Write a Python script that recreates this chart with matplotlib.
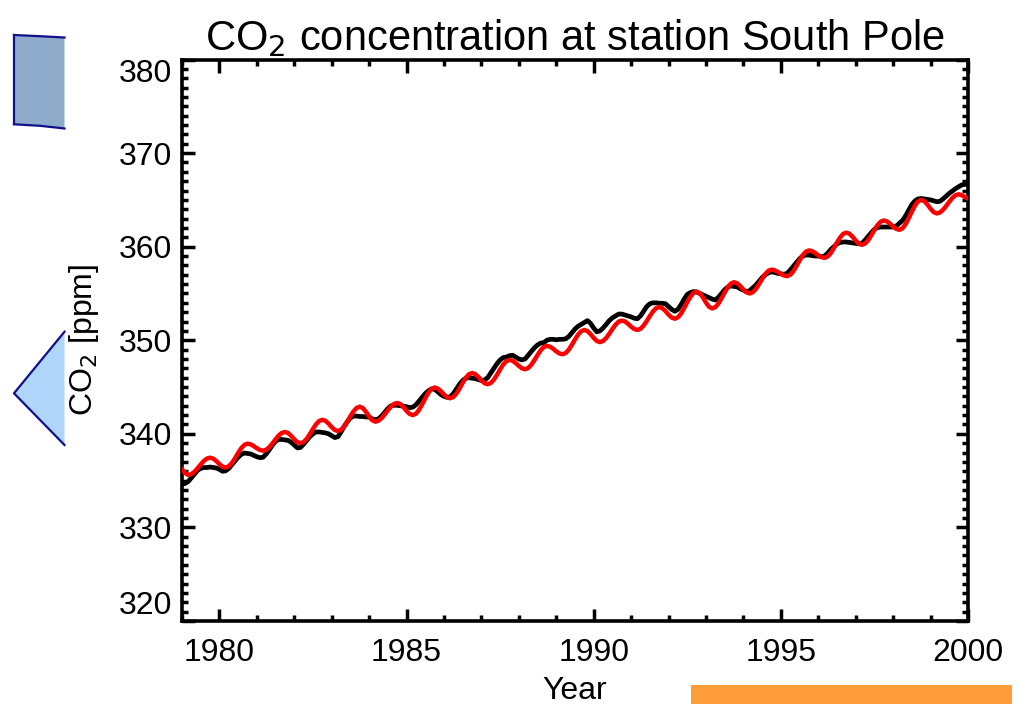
import numpy as np
import matplotlib
matplotlib.use('Agg')
import matplotlib.pyplot as plt
from matplotlib.patches import Polygon, Rectangle
from matplotlib.ticker import MultipleLocator

plt.rcParams['font.family'] = ['Liberation Sans', 'DejaVu Sans']

# Monthly values, Jan 1979 .. Jan 2000
start_year = 1979
end_year = 2000

# measured CO2 (black), one row per year
co2_obs = [
    334.6, 334.7, 334.9, 335.3, 335.7, 336.1, 336.3, 336.4, 336.4, 336.45, 336.4, 336.35,  # 1979
    336.2, 336.0, 336.05, 336.3, 336.7, 337.1, 337.5, 337.8, 337.95, 337.9, 337.85, 337.7,  # 1980
    337.55, 337.45, 337.5, 337.85, 338.3, 338.8, 339.2, 339.4, 339.4, 339.35, 339.3, 339.1,  # 1981
    338.8, 338.5, 338.55, 338.9, 339.3, 339.7, 340.0, 340.2, 340.2, 340.15, 340.1, 340.0,  # 1982
    339.8, 339.6, 339.7, 340.2, 340.8, 341.3, 341.7, 341.9, 341.9, 341.85, 341.85, 341.8,  # 1983
    341.8, 341.6, 341.5, 341.6, 341.9, 342.3, 342.7, 343.0, 343.05, 343.05, 343.0, 342.95,  # 1984
    342.9, 342.8, 342.85, 343.1, 343.5, 343.9, 344.3, 344.6, 344.8, 344.75, 344.5, 344.2,  # 1985
    344.0, 343.9, 343.95, 344.3, 344.8, 345.3, 345.7, 345.95, 346.0, 345.95, 345.9, 345.8,  # 1986
    345.7, 345.75, 346.0, 346.5, 347.0, 347.5, 347.9, 348.15, 348.2, 348.35, 348.4, 348.2,  # 1987
    348.0, 347.9, 348.0, 348.4, 348.8, 349.2, 349.5, 349.7, 349.75, 350.0, 350.1, 350.1,  # 1988
    350.05, 350.1, 350.1, 350.15, 350.4, 350.8, 351.2, 351.5, 351.7, 351.9, 352.1, 351.8,  # 1989
    351.3, 350.9, 351.0, 351.3, 351.7, 352.1, 352.4, 352.6, 352.8, 352.8, 352.7, 352.6,  # 1990
    352.5, 352.35, 352.3, 352.6, 353.1, 353.6, 353.9, 354.0, 354.0, 353.95, 353.95, 353.9,  # 1991
    353.6, 353.3, 353.1, 353.3, 353.8, 354.4, 354.9, 355.1, 355.2, 355.15, 355.0, 354.85,  # 1992
    354.7, 354.55, 354.4, 354.3, 354.6, 355.0, 355.4, 355.7, 355.8, 355.75, 355.7, 355.5,  # 1993
    355.35, 355.2, 355.3, 355.6, 355.9, 356.3, 356.7, 357.0, 357.2, 357.3, 357.25, 357.15,  # 1994
    357.1, 357.05, 357.15, 357.5, 357.9, 358.3, 358.7, 359.0, 359.1, 359.1, 359.05, 359.0,  # 1995
    359.0, 358.95, 359.0, 359.3, 359.7, 360.0, 360.3, 360.45, 360.5, 360.5, 360.45, 360.4,  # 1996
    360.35, 360.3, 360.35, 360.7, 361.1, 361.5, 361.85, 362.05, 362.1, 362.1, 362.1, 362.1,  # 1997
    362.1, 362.2, 362.5, 362.8, 363.3, 363.9, 364.5, 364.9, 365.1, 365.15, 365.1, 365.05,  # 1998
    365.0, 364.9, 364.8, 364.85, 365.1, 365.4, 365.7, 365.95, 366.2, 366.4, 366.6, 366.65,  # 1999
    366.7,  # 2000
]

# model CO2 (red)
co2_model = [
    336.2, 335.8, 335.6, 335.69, 335.95, 336.32, 336.73, 337.1, 337.36, 337.45, 337.35, 337.09,  # 1979
    336.76, 336.5, 336.4, 336.53, 336.88, 337.39, 337.96, 338.47, 338.82, 338.95, 338.88, 338.69,  # 1980
    338.46, 338.27, 338.2, 338.3, 338.58, 338.98, 339.42, 339.82, 340.1, 340.2, 340.09, 339.79,  # 1981
    339.41, 339.11, 339.0, 339.13, 339.48, 339.98, 340.53, 341.03, 341.38, 341.5, 341.39, 341.09,  # 1982
    340.71, 340.41, 340.3, 340.43, 340.79, 341.31, 341.89, 342.41, 342.77, 342.9, 342.75, 342.35,  # 1983
    341.85, 341.45, 341.3, 341.4, 341.68, 342.08, 342.52, 342.92, 343.2, 343.3, 343.18, 342.85,  # 1984
    342.45, 342.12, 342.0, 342.15, 342.56, 343.15, 343.8, 344.39, 344.8, 344.95, 344.84, 344.55,  # 1985
    344.2, 343.91, 343.8, 343.94, 344.31, 344.85, 345.45, 345.99, 346.37, 346.5, 346.39, 346.09,  # 1986
    345.71, 345.41, 345.3, 345.43, 345.79, 346.31, 346.89, 347.41, 347.77, 347.9, 347.81, 347.56,  # 1987
    347.25, 347.0, 346.9, 347.03, 347.38, 347.88, 348.43, 348.93, 349.28, 349.4, 349.31, 349.09,  # 1988
    348.81, 348.59, 348.5, 348.63, 348.99, 349.51, 350.09, 350.61, 350.97, 351.1, 350.98, 350.65,  # 1989
    350.25, 349.92, 349.8, 349.92, 350.24, 350.7, 351.2, 351.66, 351.99, 352.1, 352.01, 351.76,  # 1990
    351.45, 351.2, 351.1, 351.22, 351.57, 352.06, 352.59, 353.08, 353.43, 353.55, 353.43, 353.12,  # 1991
    352.73, 352.42, 352.3, 352.45, 352.85, 353.43, 354.07, 354.65, 355.06, 355.2, 355.03, 354.58,  # 1992
    354.02, 353.57, 353.4, 353.54, 353.93, 354.49, 355.11, 355.67, 356.06, 356.2, 356.09, 355.79,  # 1993
    355.41, 355.11, 355.0, 355.13, 355.48, 355.99, 356.56, 357.07, 357.42, 357.55, 357.48, 357.31,  # 1994
    357.09, 356.92, 356.85, 356.99, 357.37, 357.92, 358.53, 359.08, 359.46, 359.6, 359.52, 359.32,  # 1995
    359.08, 358.88, 358.8, 358.94, 359.31, 359.85, 360.45, 360.99, 361.37, 361.5, 361.38, 361.05,  # 1996
    360.65, 360.32, 360.2, 360.33, 360.69, 361.21, 361.79, 362.31, 362.67, 362.8, 362.71, 362.46,  # 1997
    362.15, 361.9, 361.8, 361.96, 362.41, 363.05, 363.75, 364.39, 364.84, 365.0, 364.86, 364.5,  # 1998
    364.05, 363.69, 363.55, 363.65, 363.94, 364.35, 364.8, 365.21, 365.5, 365.6, 365.5, 365.3,  # 1999
    365.15,  # 2000
]

time = start_year + np.arange(len(co2_obs)) / 12.0

W, H = 1021, 704


def px(x, y):
    # pixel position (from top-left) -> figure fraction
    return (x / W, 1 - y / H)


fig = plt.figure(figsize=(W / 100, H / 100), dpi=100)
ax = fig.add_axes([182 / W, 1 - 621 / H, (968 - 182) / W, (621 - 59.5) / H])

ax.plot(time, co2_obs, color='black', lw=3.4, zorder=3)
ax.plot(time, co2_model, color='#ff0000', lw=3.2, zorder=4)

ax.set_xlim(start_year, end_year)
ax.set_ylim(320, 380)
ax.xaxis.set_major_locator(MultipleLocator(5))
ax.xaxis.set_minor_locator(MultipleLocator(1))
ax.yaxis.set_major_locator(MultipleLocator(10))
ax.yaxis.set_minor_locator(MultipleLocator(1))
ax.tick_params(which='both', direction='in', top=True, right=True, width=2.5)
ax.tick_params(which='major', length=9)
ax.tick_params(which='minor', length=4.5)
ax.tick_params(axis='x', labelsize=23, pad=12)
ax.tick_params(axis='y', labelsize=23, pad=7)
for s in ax.spines.values():
    s.set_linewidth(2.6)

ax.set_title('CO$_2$ concentration at station South Pole', fontsize=30, pad=4)
ax.set_xlabel('Year', fontsize=23, labelpad=6)
ax.set_ylabel('CO$_2$ [ppm]', fontsize=23, labelpad=13)

# IDL-like: keep end labels inside the axis range
fig.canvas.draw()
for lab in ax.get_yticklabels():
    if lab.get_text() == '380':
        lab.set_va('top')
    elif lab.get_text() == '320':
        lab.set_va('bottom')

# decorative shapes around the plot
box = [px(14, 35), px(40, 36.2), px(64.5, 37.5), px(64.5, 128.5), px(40, 125.8), px(14, 124.3)]
fig.patches.append(Polygon(box, closed=True, transform=fig.transFigure,
                           facecolor='#8eabcc', edgecolor='none'))
for seg in ([box[0], box[1], box[2]], [box[5], box[4], box[3]], [box[0], box[5]]):
    xs, ys = zip(*seg)
    fig.add_artist(plt.Line2D(xs, ys, transform=fig.transFigure, color='#10108a', lw=1.6))

tri = [px(64.5, 331.7), px(14, 393.3), px(64.5, 445)]
fig.patches.append(Polygon(tri, closed=True, transform=fig.transFigure,
                           facecolor='#b0d5fa', edgecolor='none'))
xs, ys = zip(*tri)
fig.add_artist(plt.Line2D(xs, ys, transform=fig.transFigure, color='#10108a', lw=1.6))

x0, y0 = px(691, 704)
fig.patches.append(Rectangle((x0, y0), (1012.3 - 691) / W, 19.5 / H,
                             transform=fig.transFigure, facecolor='#ff9d3a', edgecolor='none'))

fig.savefig('out.png', dpi=100)
